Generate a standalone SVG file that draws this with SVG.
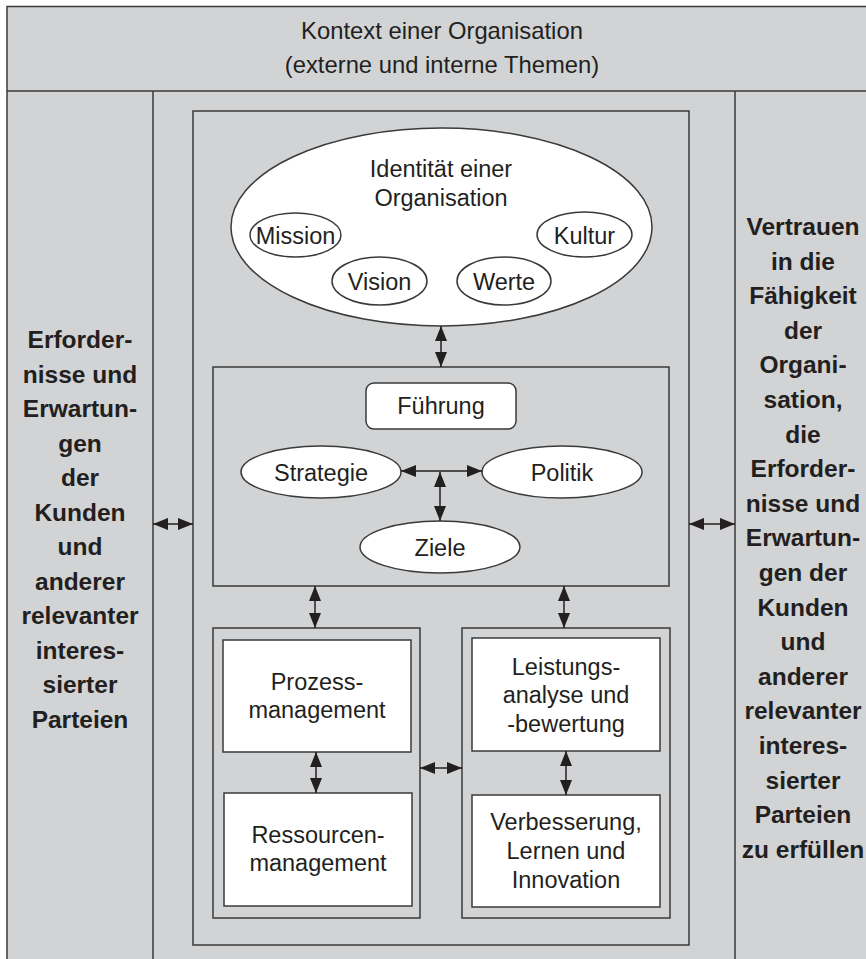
<svg xmlns="http://www.w3.org/2000/svg" width="866" height="959" viewBox="0 0 866 959">
  <defs>
    <style>
      .frame { fill: #d1d3d4; stroke: #3a3a3a; stroke-width: 1.5; }
      .line { fill: none; stroke: #3a3a3a; stroke-width: 1.5; }
      .box { fill: #ffffff; stroke: #3a3a3a; stroke-width: 1.5; }
      .grp { fill: none; stroke: #3a3a3a; stroke-width: 1.5; }
      .conn { fill: none; stroke: #231f20; stroke-width: 1.5; marker-start: url(#head); marker-end: url(#head); }
      text { font-family: "Liberation Sans", Arial, sans-serif; fill: #231f20; text-anchor: middle; }
      .t { font-size: 23.5px; }
      .hdr { font-size: 23.8px; }
      .side { font-size: 24.5px; font-weight: bold; }
    </style>
    <marker id="head" viewBox="0 0 15 12" markerWidth="15" markerHeight="12" refX="15" refY="6" orient="auto-start-reverse" markerUnits="userSpaceOnUse">
      <path d="M0,0 L15,6 L0,12 z" fill="#231f20"/>
    </marker>
  </defs>

  <!-- outer frame and column structure -->
  <g id="frame">
    <rect class="frame" x="7" y="6.5" width="870" height="960"/>
    <line class="line" x1="7" y1="91" x2="866" y2="91"/>
    <line class="line" x1="153" y1="91" x2="153" y2="959"/>
    <line class="line" x1="735" y1="91" x2="735" y2="959"/>
  </g>

  <g id="kontext">
    <text class="hdr" x="442" y="39">Kontext einer Organisation</text>
    <text class="hdr" x="442" y="73">(externe und interne Themen)</text>
  </g>

  <g id="erfordernisse">
    <text class="side" x="80" y="348">Erforder-</text>
    <text class="side" x="80" y="382.5">nisse und</text>
    <text class="side" x="80" y="417">Erwartun-</text>
    <text class="side" x="80" y="451.5">gen</text>
    <text class="side" x="80" y="486">der</text>
    <text class="side" x="80" y="520.5">Kunden</text>
    <text class="side" x="80" y="555">und</text>
    <text class="side" x="80" y="589.5">anderer</text>
    <text class="side" x="80" y="624">relevanter</text>
    <text class="side" x="80" y="658.5">interes-</text>
    <text class="side" x="80" y="693">sierter</text>
    <text class="side" x="80" y="727.5">Parteien</text>
  </g>

  <g id="vertrauen">
    <text class="side" x="803" y="235">Vertrauen</text>
    <text class="side" x="803" y="269.6">in die</text>
    <text class="side" x="803" y="304.2">Fähigkeit</text>
    <text class="side" x="803" y="338.8">der</text>
    <text class="side" x="803" y="373.4">Organi-</text>
    <text class="side" x="803" y="408">sation,</text>
    <text class="side" x="803" y="442.6">die</text>
    <text class="side" x="803" y="477.2">Erforder-</text>
    <text class="side" x="803" y="511.8">nisse und</text>
    <text class="side" x="803" y="546.4">Erwartun-</text>
    <text class="side" x="803" y="581">gen der</text>
    <text class="side" x="803" y="615.6">Kunden</text>
    <text class="side" x="803" y="650.2">und</text>
    <text class="side" x="803" y="684.8">anderer</text>
    <text class="side" x="803" y="719.4">relevanter</text>
    <text class="side" x="803" y="754">interes-</text>
    <text class="side" x="803" y="788.6">sierter</text>
    <text class="side" x="803" y="823.2">Parteien</text>
    <text class="side" x="803" y="857.8">zu erfüllen</text>
  </g>

  <!-- organisation -->
  <g id="organisation">
    <rect class="grp" x="193" y="111" width="496" height="834"/>
  </g>

  <g id="identitaet">
    <ellipse class="box" cx="441.5" cy="227" rx="210.5" ry="99"/>
    <text class="t" x="441" y="177">Identität einer</text>
    <text class="t" x="441" y="206">Organisation</text>
  </g>
  <g id="mission">
    <ellipse class="box" cx="295.5" cy="235" rx="45.5" ry="22"/>
    <text class="t" x="295.5" y="243.5">Mission</text>
  </g>
  <g id="kultur">
    <ellipse class="box" cx="584.5" cy="234.5" rx="47.5" ry="22.5"/>
    <text class="t" x="584.5" y="243.5">Kultur</text>
  </g>
  <g id="vision">
    <ellipse class="box" cx="379.5" cy="281" rx="47.5" ry="24"/>
    <text class="t" x="379.5" y="290">Vision</text>
  </g>
  <g id="werte">
    <ellipse class="box" cx="504" cy="281" rx="47" ry="24"/>
    <text class="t" x="504" y="290">Werte</text>
  </g>

  <g id="fuehrungsebene">
    <rect class="grp" x="213" y="367" width="456" height="219"/>
  </g>
  <g id="fuehrung">
    <rect class="box" x="366" y="383" width="150" height="46" rx="8" ry="8"/>
    <text class="t" x="441" y="414">Führung</text>
  </g>
  <g id="strategie">
    <ellipse class="box" cx="321" cy="472" rx="80" ry="26"/>
    <text class="t" x="321" y="480.5">Strategie</text>
  </g>
  <g id="politik">
    <ellipse class="box" cx="562" cy="472" rx="80" ry="26"/>
    <text class="t" x="562" y="480.5">Politik</text>
  </g>
  <g id="ziele">
    <ellipse class="box" cx="440" cy="547" rx="80" ry="26"/>
    <text class="t" x="440" y="555.5">Ziele</text>
  </g>

  <g id="prozesse-ressourcen">
    <rect class="grp" x="213" y="628" width="207" height="290"/>
  </g>
  <g id="prozessmanagement">
    <rect class="box" x="223" y="640" width="188" height="112"/>
    <text class="t" x="317" y="690">Prozess-</text>
    <text class="t" x="317" y="718">management</text>
  </g>
  <g id="ressourcenmanagement">
    <rect class="box" x="224" y="793" width="188" height="113"/>
    <text class="t" x="318" y="843">Ressourcen-</text>
    <text class="t" x="318" y="871">management</text>
  </g>

  <g id="bewertung-verbesserung">
    <rect class="grp" x="462" y="628" width="208" height="290"/>
  </g>
  <g id="leistungsanalyse">
    <rect class="box" x="472" y="638" width="188" height="113"/>
    <text class="t" x="566" y="675">Leistungs-</text>
    <text class="t" x="566" y="703">analyse und</text>
    <text class="t" x="566" y="732">-bewertung</text>
  </g>
  <g id="verbesserung">
    <rect class="box" x="472" y="795" width="188" height="112"/>
    <text class="t" x="566" y="830">Verbesserung,</text>
    <text class="t" x="566" y="859">Lernen und</text>
    <text class="t" x="566" y="888">Innovation</text>
  </g>

  <!-- two-way connectors -->
  <g id="connectors">
    <line class="conn" x1="153" y1="524" x2="193" y2="524"/>
    <line class="conn" x1="689" y1="524" x2="735" y2="524"/>
    <line class="conn" x1="441" y1="326" x2="441" y2="367"/>
    <line class="conn" x1="401" y1="471" x2="482" y2="471"/>
    <line class="conn" x1="440" y1="472" x2="440" y2="521"/>
    <line class="conn" x1="315" y1="586" x2="315" y2="628"/>
    <line class="conn" x1="564" y1="586" x2="564" y2="628"/>
    <line class="conn" x1="316" y1="752" x2="316" y2="793"/>
    <line class="conn" x1="566" y1="751" x2="566" y2="795"/>
    <line class="conn" x1="420" y1="768" x2="462" y2="768"/>
  </g>
</svg>
